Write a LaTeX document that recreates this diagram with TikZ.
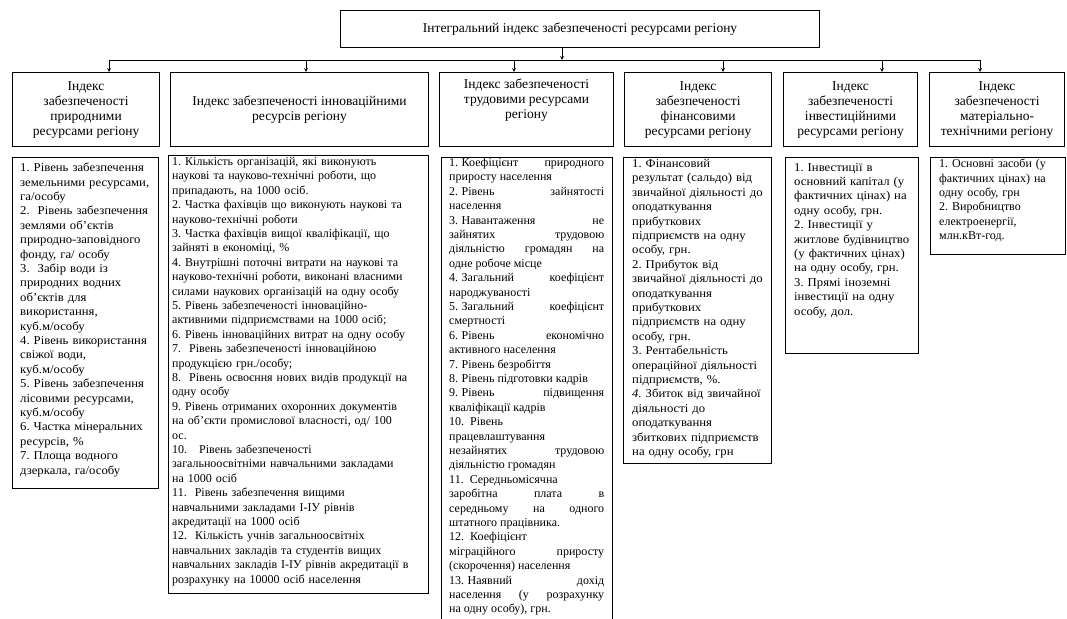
\documentclass[tikz,border=0pt]{standalone}
\usepackage{fontspec}
\setmainfont{Liberation Serif}
\newfontfamily\wideserif{Liberation Serif}[FakeStretch=1.06]
\usepackage{tikz}
\frenchspacing
\newcommand{\nr}[1]{#1.\kern3.5pt\ignorespaces}

\begin{document}
\begin{tikzpicture}[
    x=1pt, y=-1pt,
    every node/.style={font=\fontsize{12}{14.4}\selectfont},
    hbox/.style={rectangle, draw, line width=1.1pt, anchor=north west, minimum height=74, align=center, inner sep=1pt, font=\fontsize{13.5}{15}\selectfont},
    frame/.style={rectangle, draw, line width=0.8pt, anchor=north west, inner sep=0pt},
    items/.style={anchor=north west, align=left, inner xsep=8pt, inner ysep=0pt},
    wide/.style={font=\wideserif\fontsize{12}{14.4}\selectfont},
    arrow/.style={->, >=stealth, line width=0.8pt}
]
    \useasboundingbox (0,0) rectangle (1067,618);

    % Top
    \node[hbox, minimum width=479, minimum height=37] (top) at (340,10) {Інтегральний індекс забезпеченості ресурсами регіону};

    % Headers
    \node[hbox, minimum width=147] (hnat) at (12,72) {Індекс\\ забезпеченості\\ природними\\ ресурсами регіону};
    \node[hbox, minimum width=258] (hinn) at (170,72) {Індекс забезпеченості інноваційними\\ ресурсів регіону};
    \node[hbox, minimum width=174] (hlab) at (439,72) {Індекс забезпеченості\\ трудовими ресурсами\\ регіону\\[6pt]};
    \node[hbox, minimum width=147] (hfin) at (624,72) {Індекс\\ забезпеченості\\ фінансовими\\ ресурсами регіону};
    \node[hbox, minimum width=134] (hinv) at (783,72) {Індекс\\ забезпеченості\\ інвестиційними\\ ресурсами регіону};
    \node[hbox, minimum width=135] (hmat) at (929,72) {Індекс\\ забезпеченості\\ матеріально-\\ технічними регіону};

    % Frames
    \node[frame, minimum width=146, minimum height=331] (fnat) at (12,157) {};
    \node[frame, minimum width=260, minimum height=438] (finn) at (168,155) {};
    \node[frame, minimum width=171, minimum height=475] (flab) at (441,157) {};
    \node[frame, minimum width=148, minimum height=306] (ffin) at (623,157) {};
    \node[frame, minimum width=133, minimum height=196] (finv) at (785,157) {};
    \node[frame, minimum width=135, minimum height=97] (fmat) at (930,157) {};

    % Lists
    \node[items, wide, text width=140] (tnat) at ([yshift=-6pt]fnat.north west) {1. Рівень забезпечення\\ земельними ресурсами,\\ га/особу\\ 2.\ \ Рівень забезпечення\\ землями об’єктів\\ природно-заповідного\\ фонду, га/ особу\\ 3.\ \ Забір води із\\ природних водних\\ об’єктів для\\ використання,\\ куб.м/особу\\ 4. Рівень використання\\ свіжої води,\\ куб.м/особу\\ 5. Рівень забезпечення\\ лісовими ресурсами,\\ куб.м/особу\\ 6. Частка мінеральних\\ ресурсів, \%\\ 7. Площа водного\\ дзеркала, га/особу};
    \node[items, inner xsep=4pt, text width=256] (tinn) at ([yshift=-2pt]finn.north west) {1. Кількість організацій, які виконують\\ наукові та науково-технічні роботи, що\\ припадають, на 1000 осіб.\\ 2. Частка фахівців що виконують наукові та\\ науково-технічні роботи\\ 3. Частка фахівців вищої кваліфікації, що\\ зайняті в економіці, \%\\ 4. Внутрішні поточні витрати на наукові та\\ науково-технічні роботи, виконані власними\\ силами наукових організацій на одну особу\\ 5. Рівень забезпеченості інноваційно-\\ активними підприємствами на 1000 осіб;\\ 6. Рівень інноваційних витрат на одну особу\\ 7.\ \ Рівень забезпеченості інноваційною\\ продукцією грн./особу;\\ 8.\ \ Рівень освоєння нових видів продукції на\\ одну особу\\ 9. Рівень отриманих охоронних документів\\ на об’єкти промислової власності, од/ 100\\ ос.\\ 10.\quad Рівень забезпеченості\\ загальноосвітніми навчальними закладами\\ на 1000 осіб\\ 11.\ \ Рівень забезпечення вищими\\ навчальними закладами І-ІУ рівнів\\ акредитації на 1000 осіб\\ 12.\ \ Кількість учнів загальноосвітніх\\ навчальних закладів та студентів вищих\\ навчальних закладів І-ІУ рівнів акредитації в\\ розрахунку на 10000 осіб населення};
    \node[items, inner xsep=8pt, text width=155, align=justify] (tlab) at ([yshift=-1pt]flab.north west) {\tolerance=10000\hyphenpenalty=10000
        \nr{1} Коефіцієнт природного\linebreak приросту населення\par
        \nr{2} Рівень зайнятості\linebreak населення\par
        \nr{3} Навантаження не\linebreak зайнятих трудовою\linebreak діяльністю громадян на\linebreak одне робоче місце\par
        \nr{4} Загальний коефіцієнт\linebreak народжуваності\par
        \nr{5} Загальний коефіцієнт\linebreak смертності\par
        \nr{6} Рівень економічно\linebreak активного населення\par
        \nr{7} Рівень безробіття\par
        \nr{8} Рівень підготовки кадрів\par
        \nr{9} Рівень підвищення\linebreak кваліфікації кадрів\par
        10.\ \ Рівень\\ працевлаштування\\ незайнятих трудовою\linebreak діяльністю громадян\par
        11.\ \ Середньомісячна\\ заробітна плата в\linebreak середньому на одного\linebreak штатного працівника.\par
        12.\ \ Коефіцієнт\\ міграційного приросту\linebreak (скорочення) населення\par
        \nr{13} Наявний дохід\linebreak населення (у розрахунку\linebreak на одну особу), грн.};
    \node[items, wide, inner xsep=9pt, text width=145] (tfin) at ([yshift=-2pt]ffin.north west) {1. Фінансовий\\ результат (сальдо) від\\ звичайної діяльності до\\ оподаткування\\ прибуткових\\ підприємств на одну\\ особу, грн.\\ 2. Прибуток від\\ звичайної діяльності до\\ оподаткування\\ прибуткових\\ підприємств на одну\\ особу, грн.\\ 3. Рентабельність\\ операційної діяльності\\ підприємств, \%.\\ \textit{4.} Збиток від звичайної\\ діяльності до\\ оподаткування\\ збиткових підприємств\\ на одну особу, грн};
    \node[items, wide, inner xsep=9pt, text width=130] (tinv) at ([yshift=-6pt]finv.north west) {1. Інвестиції в\\ основний капітал (у\\ фактичних цінах) на\\ одну особу, грн.\\ 2. Інвестиції у\\ житлове будівництво\\ (у фактичних цінах)\\ на одну особу, грн.\\ 3. Прямі іноземні\\ інвестиції на одну\\ особу, дол.};
    \node[items, inner xsep=9pt, text width=130] (tmat) at ([yshift=-2pt]fmat.north west) {1. Основні засоби (у\\ фактичних цінах) на\\ одну особу, грн\\ 2. Виробництво\\ електроенергії,\\ млн.кВт-год.};

    % Arrows
    \coordinate (d0) at (562,60);
    \coordinate (d1) at (109,60);
    \coordinate (d2) at (306,60);
    \coordinate (d3) at (514,60);
    \coordinate (d4) at (723,60);
    \coordinate (d5) at (882,60);
    \coordinate (d6) at (980,60);
    \draw[arrow] (top.south -| d0) -- (d0);
    \draw[line width=0.8pt] (d1) -- (d6);
    \draw[arrow] (d1) -- (d1 |- hnat.north);
    \draw[arrow] (d2) -- (d2 |- hinn.north);
    \draw[arrow] (d3) -- (d3 |- hlab.north);
    \draw[arrow] (d4) -- (d4 |- hfin.north);
    \draw[arrow] (d5) -- (d5 |- hinv.north);
    \draw[arrow] (d6) -- (d6 |- hmat.north);
\end{tikzpicture}
\end{document}
